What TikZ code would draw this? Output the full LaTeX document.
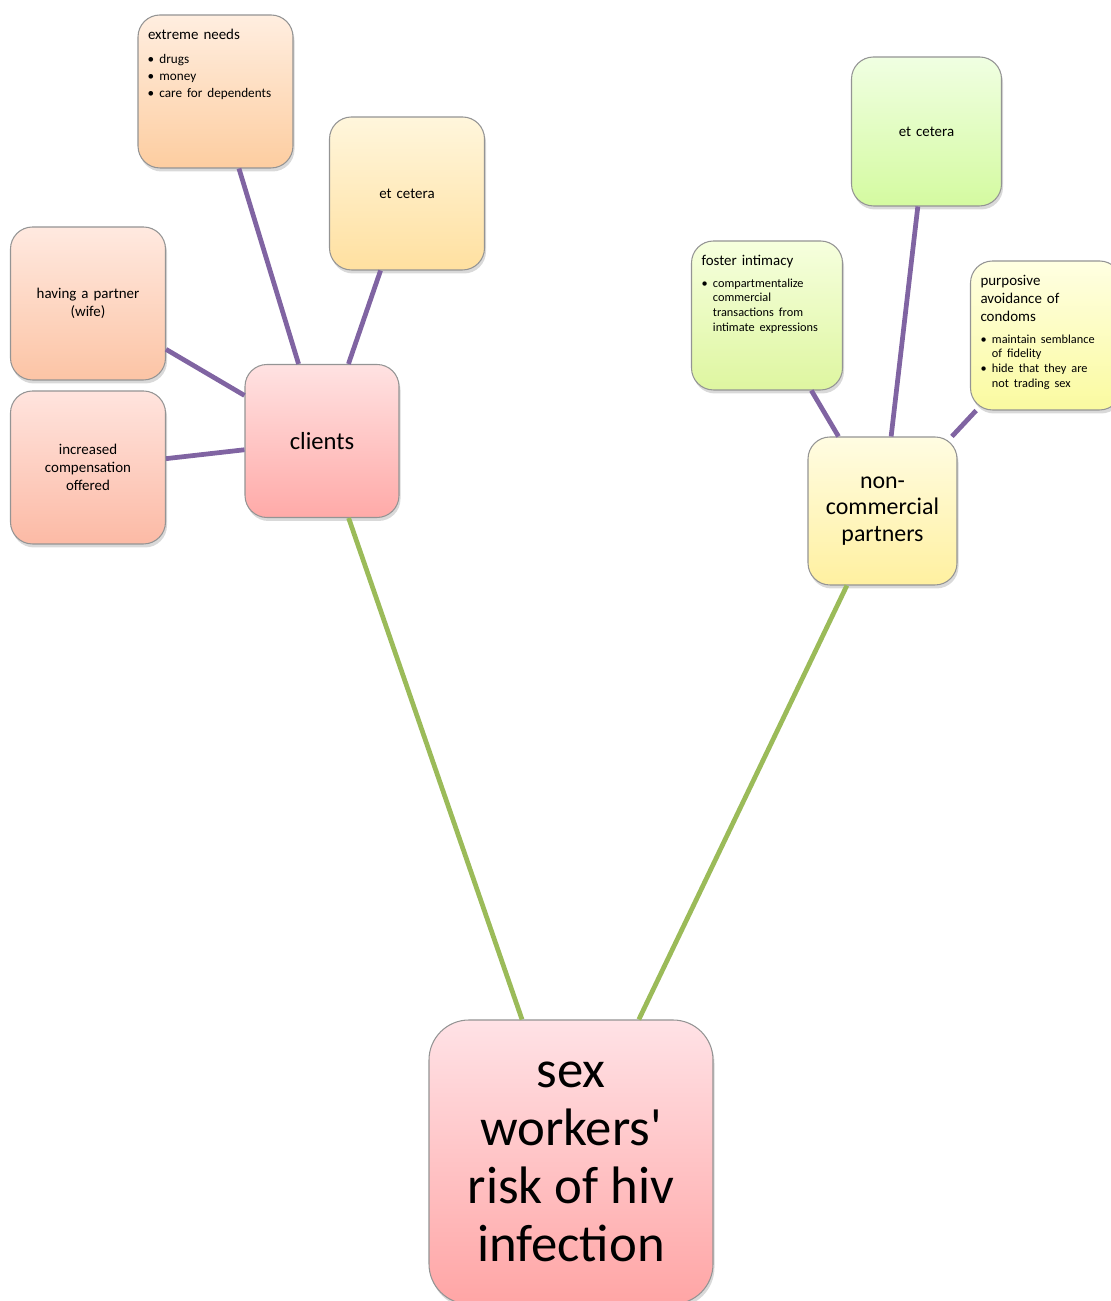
\documentclass[tikz,border=0pt]{standalone}
\usepackage{fontspec}
\setmainfont{Carlito}
\usepackage{enumitem}
\usetikzlibrary{shadows}

\definecolor{LinkPurple}{RGB}{128,100,162}
\definecolor{LinkGreen}{RGB}{155,187,89}

% top-aligned content of a fixed height
\newcommand{\topnote}[2]{\parbox[c][#1][t]{\linewidth}{\raggedright\vspace*{1.5pt}#2}}
\newenvironment{bulletlist}[1][0pt]{\begin{itemize}[label=\textbullet, leftmargin=6.5pt, rightmargin=#1, labelsep=3pt, nosep, topsep=4pt, before=\raggedright]}{\end{itemize}}

\tikzset{
  bubble/.style={draw=black!42, line width=0.6pt, rounded corners=0.44cm,
    minimum width=3.08cm, minimum height=3.06cm, inner sep=0.2cm, align=center,
    drop shadow={opacity=0.3, shadow xshift=0.03cm, shadow yshift=-0.07cm}},
  leaf/.style={bubble, text width=2.7cm, font=\fontsize{8.5}{10.2}\selectfont},
  noteleaf/.style={leaf, align=left},
  spoke/.style={draw=LinkPurple, line width=2.7pt},
  trunk/.style={draw=LinkGreen, line width=2.7pt},
  tint/.style n args={2}{top color=#1, bottom color=#2}
}

\begin{document}
\begin{tikzpicture}[x=1cm,y=1cm]
\useasboundingbox (0,0) rectangle (22.2,26.02);
\definecolor{needsTop}{RGB}{255,238,224}\definecolor{needsBot}{RGB}{253,205,160}
\definecolor{etcLTop}{RGB}{255,246,220}\definecolor{etcLBot}{RGB}{255,224,160}
\definecolor{partTop}{RGB}{255,233,224}\definecolor{partBot}{RGB}{252,196,165}
\definecolor{compTop}{RGB}{255,228,222}\definecolor{compBot}{RGB}{252,186,165}
\definecolor{cliTop}{RGB}{255,226,226}\definecolor{cliBot}{RGB}{255,170,168}
\definecolor{rootTop}{RGB}{255,226,230}\definecolor{rootBot}{RGB}{255,165,165}
\definecolor{fostTop}{RGB}{246,255,222}\definecolor{fostBot}{RGB}{222,246,160}
\definecolor{etcRTop}{RGB}{240,255,226}\definecolor{etcRBot}{RGB}{212,250,160}
\definecolor{purpTop}{RGB}{255,255,226}\definecolor{purpBot}{RGB}{250,250,160}
\definecolor{noncTop}{RGB}{255,252,226}\definecolor{noncBot}{RGB}{255,240,160}

% root
\node[bubble, tint={rootTop}{rootBot}, minimum width=5.68cm, minimum height=5.68cm,
  rounded corners=0.8cm, font=\fontsize{30}{33}\selectfont] (risk) at (11.42,2.78)
  {sex\\workers\textquotesingle\\risk of hiv\\infection};

% clients branch
\node[bubble, tint={cliTop}{cliBot}, font=\fontsize{14}{16}\selectfont] (clients) at (6.44,17.2) {clients};
\node[noteleaf, tint={needsTop}{needsBot}, minimum width=3.1cm] (needs) at (4.31,24.19)
  {\topnote{2.6cm}{extreme needs\par{\fontsize{7.5}{9.7}\selectfont\begin{bulletlist}\item drugs\item money\item care for dependents\end{bulletlist}}}};
\node[leaf, tint={etcLTop}{etcLBot}] (etcL) at (8.14,22.15) {et cetera};
\node[leaf, tint={partTop}{partBot}] (partner) at (1.76,19.95) {having a partner\\(wife)};
\node[leaf, tint={compTop}{compBot}] (comp) at (1.76,16.67) {increased\\compensation\\offered};

% non-commercial branch
\node[bubble, tint={noncTop}{noncBot}, minimum width=2.98cm, minimum height=2.96cm,
  font=\fontsize{13.6}{15.1}\selectfont] (noncomm) at (17.65,15.8) {non-\\commercial\\partners};
\node[noteleaf, tint={fostTop}{fostBot}, minimum width=3.0cm, minimum height=2.98cm, text width=2.62cm] (foster) at (15.34,19.71)
  {\topnote{2.52cm}{foster intimacy\par{\fontsize{7}{8.4}\selectfont\begin{bulletlist}\item compartmentalize commercial transactions from intimate expressions\end{bulletlist}}}};
\node[leaf, tint={etcRTop}{etcRBot}, minimum width=2.98cm, minimum height=2.98cm, text width=2.6cm] (etcR) at (18.53,23.39) {et cetera};
\node[noteleaf, tint={purpTop}{purpBot}, minimum width=3.0cm, minimum height=2.98cm, text width=2.62cm] (avoid) at (20.92,19.31)
  {\topnote{2.52cm}{purposive\\avoidance of\\condoms\par{\fontsize{7}{8.4}\selectfont\begin{bulletlist}[4pt]\item maintain semblance of fidelity\item hide that they are not trading sex\end{bulletlist}}}};

% connectors
\draw[trunk] (clients) -- (risk);
\draw[trunk] (noncomm) -- (risk);
\draw[spoke] (needs) -- (clients);
\draw[spoke] (etcL) -- (clients);
\draw[spoke] (partner) -- (clients);
\draw[spoke] (comp) -- (clients);
\draw[spoke] (foster) -- (noncomm);
\draw[spoke] (etcR) -- (noncomm);
\draw[spoke] (avoid) -- (noncomm);
\end{tikzpicture}
\end{document}
